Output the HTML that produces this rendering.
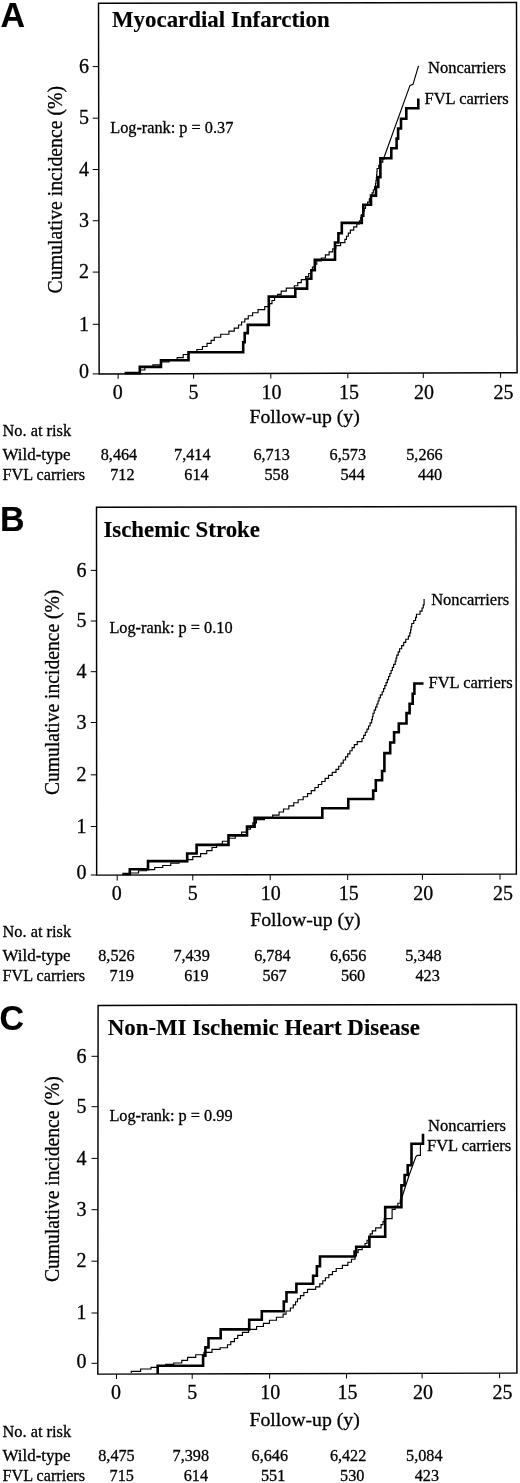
<!DOCTYPE html>
<html><head><meta charset="utf-8"><title>Figure</title><style>
html,body{margin:0;padding:0;background:#fff;}
svg{filter:grayscale(100%);}
body{width:520px;height:1483px;overflow:hidden;}
svg{display:block;}
text{font-family:"Liberation Serif", serif;fill:#000;stroke:#000;stroke-width:0.3px;stroke-linejoin:round;}
.let,.ti{stroke-width:0.15px;}
.let{font-family:"Liberation Sans", sans-serif;font-weight:bold;font-size:34px;}
.box{fill:none;stroke:#000;stroke-width:1.45;}
.tk{stroke:#000;stroke-width:1.0;}
.tl{font-size:20px;}
.yl{font-size:20.3px;}
.ti{font-size:22.9px;font-weight:bold;}
.lr{font-size:16.3px;}
.cl{font-size:16.5px;}
.fu{font-size:19.8px;}
.tb{font-size:16.2px;}
.thk{fill:none;stroke:#000;stroke-width:2.6;stroke-linejoin:miter;stroke-linecap:butt;}
.thn{fill:none;stroke:#000;stroke-width:1.15;stroke-linejoin:miter;}
</style></head>
<body><svg width="520" height="1483" viewBox="0 0 520 1483">
<text transform="translate(0.5 26.8) scale(1 1.045)" class="let">A</text>
<polygon points="98.5,3.3 516.5,2.5 517.1,372.8 99.15,373.9" class="box"/>
<line x1="92.7" x2="99.15" y1="373.9" y2="373.9" class="tk"/>
<text x="89.1" y="378.2" class="tl" text-anchor="end">0</text>
<line x1="92.7" x2="99.06" y1="324.3" y2="324.3" class="tk"/>
<text x="89.1" y="330.5" class="tl" text-anchor="end">1</text>
<line x1="92.7" x2="98.97" y1="272.1" y2="272.1" class="tk"/>
<text x="89.1" y="278.3" class="tl" text-anchor="end">2</text>
<line x1="92.7" x2="98.88" y1="220.75" y2="220.75" class="tk"/>
<text x="89.1" y="226.95" class="tl" text-anchor="end">3</text>
<line x1="92.7" x2="98.79" y1="169.5" y2="169.5" class="tk"/>
<text x="89.1" y="175.7" class="tl" text-anchor="end">4</text>
<line x1="92.7" x2="98.7" y1="118.2" y2="118.2" class="tk"/>
<text x="89.1" y="124.4" class="tl" text-anchor="end">5</text>
<line x1="92.7" x2="98.61" y1="66.6" y2="66.6" class="tk"/>
<text x="89.1" y="72.8" class="tl" text-anchor="end">6</text>
<line x1="118.15" x2="118.15" y1="373.85" y2="378.85" class="tk"/>
<text x="117.65" y="399.2" class="tl" text-anchor="middle">0</text>
<line x1="193.6" x2="193.6" y1="373.65" y2="378.65" class="tk"/>
<text x="193.6" y="399.2" class="tl" text-anchor="middle">5</text>
<line x1="270.8" x2="270.8" y1="373.45" y2="378.45" class="tk"/>
<text x="271.4" y="399.2" class="tl" text-anchor="middle">10</text>
<line x1="347.8" x2="347.8" y1="373.25" y2="378.25" class="tk"/>
<text x="348.9" y="399.2" class="tl" text-anchor="middle">15</text>
<line x1="423.3" x2="423.3" y1="373.05" y2="378.05" class="tk"/>
<text x="424.1" y="399.2" class="tl" text-anchor="middle">20</text>
<line x1="500.6" x2="500.6" y1="372.84" y2="377.84" class="tk"/>
<text x="503.6" y="399.2" class="tl" text-anchor="middle">25</text>
<text transform="translate(61.8 189.7) rotate(-90)" class="yl" text-anchor="middle" textLength="207.4" lengthAdjust="spacingAndGlyphs">Cumulative incidence (%)</text>
<text x="112" y="26.9" class="ti">Myocardial Infarction</text>
<text x="110.2" y="132.9" class="lr">Log-rank: p = 0.37</text>
<path d="M124.6 373.1H139.8V366.9H161V360.3H188.5V352.3H243.2V342.3H244.7V333.1H247.8V324.9H268.8V296.6H295.3V288.6H307.1V278.8H311.3V270.2H314.8V259.8H335V242.5H338.4V233.3H341.8V222.9H361.8V215.7H363.3V204.8H371V195.6H376V186.9H378.3V177.1H380.4V158.3H391.3V148.2H396.6V138.6H398.1V128.5H401V118.7H406.3V108.3H418.3V98.5" class="thk"/>
<path d="M124.6 373.3H132.68V373.13H139.86V370H144.87V366.87H152.88V364.93H160.91V361.86H168.99V359.57H177.13V357.59H183.22V354.48H188.75V351.46H196.9V349.5H202.41V346.48H207.03V343.37H211.09V340.31H214.24V337.26H220.71V334.21H228.9V331.15H234.25V328.1H238.54V324.96H241.55V321.95H244.83V318.82H248.27V315.78H252.59V312.77H258.06V309.65H264.76V306.64H269.57V303.55H271.99V300.5H274.55V297.35H277.57V294.33H281.19V291.17H286.32V288.14H294.35V285.76H297.73V282.66H301.3V279.57H305.55V276.55H308.64V273.46H310.62V270.26H312.38V267.19H314.52V264.07H316.79V261.02H321.38V257.96H325.37V254.83H329.1V251.83H332.74V248.76H335.83V245.67H340.57V242.61H344.89V239.42H346.5V236.2H348.31V233.19H350.37V230.05H353.74V226.92H356.8V223.85H359.47V220.78H360.78V217.56H361.84V214.47H362.97V211.41H364.12V208.35H365.56V205.17H367.66V202.05H369.35V198.93H370.73V195.88H372.09V192.83H373.32V189.77H374.55V186.72H375.54V183.59H375.95V180.55H376.36V177.51H376.65V174.5H376.88V171.5H377.1V168.5H378.79V165.29H380.59V162.19H382.78V159.13H384.1V157.3" class="thn"/>
<path d="M384.1 157.3 L410 85.4 L413 84.3 L418.5 65.8" class="thn"/>
<text x="428" y="72.9" class="cl">Noncarriers</text>
<text x="424.5" y="103.9" class="cl">FVL carriers</text>
<text x="249.4" y="423.2" class="fu">Follow-up (y)</text>
<text x="2.5" y="435.6" class="tb" textLength="68.6" lengthAdjust="spacingAndGlyphs">No. at risk</text>
<text x="2.5" y="460.2" class="tb" textLength="68" lengthAdjust="spacingAndGlyphs">Wild-type</text>
<text x="2.5" y="480.4" class="tb">FVL carriers</text>
<text x="137.2" y="460.2" class="tb" text-anchor="end">8,464</text>
<text x="210.5" y="460.2" class="tb" text-anchor="end">7,414</text>
<text x="289.8" y="460.2" class="tb" text-anchor="end">6,713</text>
<text x="366" y="460.2" class="tb" text-anchor="end">6,573</text>
<text x="442.7" y="460.2" class="tb" text-anchor="end">5,266</text>
<text x="134.5" y="480.4" class="tb" text-anchor="end">712</text>
<text x="208.6" y="480.4" class="tb" text-anchor="end">614</text>
<text x="288.8" y="480.4" class="tb" text-anchor="end">558</text>
<text x="364.8" y="480.4" class="tb" text-anchor="end">544</text>
<text x="442.2" y="480.4" class="tb" text-anchor="end">440</text>
<text transform="translate(0 531.2) scale(1 1.045)" class="let">B</text>
<polygon points="96.5,507.3 516,506.4 516.35,874.1 96.65,875.1" class="box"/>
<line x1="90.8" x2="96.65" y1="875" y2="875" class="tk"/>
<text x="86.5" y="879.3" class="tl" text-anchor="end">0</text>
<line x1="90.8" x2="96.63" y1="826.5" y2="826.5" class="tk"/>
<text x="86.5" y="832.7" class="tl" text-anchor="end">1</text>
<line x1="90.8" x2="96.61" y1="774.85" y2="774.85" class="tk"/>
<text x="86.5" y="781.05" class="tl" text-anchor="end">2</text>
<line x1="90.8" x2="96.59" y1="722.5" y2="722.5" class="tk"/>
<text x="86.5" y="728.7" class="tl" text-anchor="end">3</text>
<line x1="90.8" x2="96.57" y1="671.7" y2="671.7" class="tk"/>
<text x="86.5" y="677.9" class="tl" text-anchor="end">4</text>
<line x1="90.8" x2="96.55" y1="621" y2="621" class="tk"/>
<text x="86.5" y="627.2" class="tl" text-anchor="end">5</text>
<line x1="90.8" x2="96.53" y1="570.4" y2="570.4" class="tk"/>
<text x="86.5" y="576.6" class="tl" text-anchor="end">6</text>
<line x1="117.2" x2="117.2" y1="875.05" y2="880.55" class="tk"/>
<text x="116.7" y="899.6" class="tl" text-anchor="middle">0</text>
<line x1="192.8" x2="192.8" y1="874.87" y2="880.37" class="tk"/>
<text x="192.8" y="899.6" class="tl" text-anchor="middle">5</text>
<line x1="270.2" x2="270.2" y1="874.69" y2="880.19" class="tk"/>
<text x="270.8" y="899.6" class="tl" text-anchor="middle">10</text>
<line x1="347.7" x2="347.7" y1="874.5" y2="880" class="tk"/>
<text x="348.8" y="899.6" class="tl" text-anchor="middle">15</text>
<line x1="422.4" x2="422.4" y1="874.32" y2="879.82" class="tk"/>
<text x="423.2" y="899.6" class="tl" text-anchor="middle">20</text>
<line x1="500" x2="500" y1="874.14" y2="879.64" class="tk"/>
<text x="503" y="899.6" class="tl" text-anchor="middle">25</text>
<text transform="translate(58.5 692.4) rotate(-90)" class="yl" text-anchor="middle" textLength="205.4" lengthAdjust="spacingAndGlyphs">Cumulative incidence (%)</text>
<text x="103.4" y="536.6" class="ti">Ischemic Stroke</text>
<text x="109.4" y="633.3" class="lr">Log-rank: p = 0.10</text>
<path d="M122.4 874H129.8V869.3H148V861.1H187.2V853.5H196.6V844.9H228.5V835.4H247V826.6H254.6V817.7H322.3V808.3H348.3V799H373.2V790.6H375.8V780.2H382.1V771H384.4V753.1H390.2V742.5H394.1V732.3H398.8V723.5H406.5V713.1H409.6V703.8H412.7V693.8H414.4V683.5H423.5" class="thk"/>
<path d="M122.4 874.3H130.48V872.95H138.5V870.75H146.5V869.55H154.72V867.47H162.75V865.48H170.78V863.18H179V861.64H187.13V859.68H192.81V856.65H200.62V853.56H206.72V850.56H211.99V847.49H216.66V844.37H222.39V841.29H228.31V838.24H235.28V835.24H241.65V832.18H246.58V829.07H250.53V825.99H252.84V822.81H256.4V819.67H264.48V818.03H272.63V815.06H279.08V811.96H283.51V808.95H288.81V805.9H293.75V802.77H298.14V799.74H303.2V796.71H307.54V793.65H311.25V790.63H314.9V787.52H318.33V784.49H321.74V781.46H325.12V778.43H328.5V775.4H332.25V772.38H336V769.36H338.68V766.2H341.04V763.15H343.27V760.03H345.5V756.92H347.7V753.83H349.89V750.76H352.09V747.67H354.32V744.58H357.28V741.58H362.01V738.46H363.66V735.35H365.32V732.23H366.95V729.1H368.52V725.95H370.1V722.8H371.67V719.65H372.41V716.49H373.01V713.29H374.21V710.16H375.6V707.09H376.9V704.04H378.01V700.96H379.04V697.87H380.38V694.85H382.18V691.7H383.57V688.69H384.82V685.65H386.07V682.61H387.33V679.57H388.58V676.53H389.84V673.49H391.09V670.45H392.34V667.41H393.62V664.37H395.23V661.15H396.05V658.15H396.8V655.15H398.2V651.92H399.6V648.7H401.67V645.56H403.72V642.39H405.76V639.21H408.38V636.15H409.79V632.93H410.57V629.9H411.13V626.67H411.74V623.49H413.77V620.48H415.58V617.38H416.47V614.27H420.02V611.19H422.06V608.01H423.24V604.91H424.1V601.72H424.1V599.1" class="thn"/>
<text x="431.2" y="604.8" class="cl">Noncarriers</text>
<text x="428.5" y="687.7" class="cl">FVL carriers</text>
<text x="250.2" y="925.6" class="fu">Follow-up (y)</text>
<text x="2.5" y="937.1" class="tb" textLength="68.6" lengthAdjust="spacingAndGlyphs">No. at risk</text>
<text x="2.5" y="960.5" class="tb" textLength="68" lengthAdjust="spacingAndGlyphs">Wild-type</text>
<text x="2.5" y="981" class="tb">FVL carriers</text>
<text x="134.7" y="960.5" class="tb" text-anchor="end">8,526</text>
<text x="209.8" y="960.5" class="tb" text-anchor="end">7,439</text>
<text x="290.6" y="960.5" class="tb" text-anchor="end">6,784</text>
<text x="366.3" y="960.5" class="tb" text-anchor="end">6,656</text>
<text x="441.7" y="960.5" class="tb" text-anchor="end">5,348</text>
<text x="133.9" y="981" class="tb" text-anchor="end">719</text>
<text x="208.5" y="981" class="tb" text-anchor="end">619</text>
<text x="286.7" y="981" class="tb" text-anchor="end">567</text>
<text x="365.2" y="981" class="tb" text-anchor="end">560</text>
<text x="439.8" y="981" class="tb" text-anchor="end">423</text>
<text transform="translate(-0.4 1029.6) scale(1 1.045)" class="let">C</text>
<polygon points="98.1,1005.4 516.5,1004.5 516.9,1373.1 97.8,1374.1" class="box"/>
<line x1="91.5" x2="97.81" y1="1363.3" y2="1363.3" class="tk"/>
<text x="86.4" y="1367.6" class="tl" text-anchor="end">0</text>
<line x1="91.5" x2="97.85" y1="1313" y2="1313" class="tk"/>
<text x="86.4" y="1319.2" class="tl" text-anchor="end">1</text>
<line x1="91.5" x2="97.89" y1="1261.2" y2="1261.2" class="tk"/>
<text x="86.4" y="1267.4" class="tl" text-anchor="end">2</text>
<line x1="91.5" x2="97.93" y1="1209.7" y2="1209.7" class="tk"/>
<text x="86.4" y="1215.9" class="tl" text-anchor="end">3</text>
<line x1="91.5" x2="97.98" y1="1158.4" y2="1158.4" class="tk"/>
<text x="86.4" y="1164.6" class="tl" text-anchor="end">4</text>
<line x1="91.5" x2="98.02" y1="1106.7" y2="1106.7" class="tk"/>
<text x="86.4" y="1112.9" class="tl" text-anchor="end">5</text>
<line x1="91.5" x2="98.06" y1="1056.3" y2="1056.3" class="tk"/>
<text x="86.4" y="1062.5" class="tl" text-anchor="end">6</text>
<line x1="116.5" x2="116.5" y1="1374.06" y2="1379.06" class="tk"/>
<text x="116" y="1399.2" class="tl" text-anchor="middle">0</text>
<line x1="192.2" x2="192.2" y1="1373.87" y2="1378.87" class="tk"/>
<text x="192.2" y="1399.2" class="tl" text-anchor="middle">5</text>
<line x1="269.6" x2="269.6" y1="1373.69" y2="1378.69" class="tk"/>
<text x="270.2" y="1399.2" class="tl" text-anchor="middle">10</text>
<line x1="346.5" x2="346.5" y1="1373.51" y2="1378.51" class="tk"/>
<text x="347.6" y="1399.2" class="tl" text-anchor="middle">15</text>
<line x1="422.1" x2="422.1" y1="1373.33" y2="1378.33" class="tk"/>
<text x="422.9" y="1399.2" class="tl" text-anchor="middle">20</text>
<line x1="499.6" x2="499.6" y1="1373.14" y2="1378.14" class="tk"/>
<text x="502.6" y="1399.2" class="tl" text-anchor="middle">25</text>
<text transform="translate(58.5 1179.2) rotate(-90)" class="yl" text-anchor="middle" textLength="205.7" lengthAdjust="spacingAndGlyphs">Cumulative incidence (%)</text>
<text x="107.7" y="1034.6" class="ti">Non-MI Ischemic Heart Disease</text>
<text x="109.4" y="1120.6" class="lr">Log-rank: p = 0.99</text>
<path d="M157.7 1374V1365.8H203.1V1355.7H205.4V1347.4H208.5V1338.2H220.7V1329.4H249.2V1319.7H261.8V1311.2H283.8V1301.5H286.5V1292.3H296.4V1283.8H313.1V1275.8H316.9V1266.2H320V1256.5H354.6V1251.5H356.2V1246.8H369.4V1236.7H385.2V1207.1H401.4V1185.4H404.6V1175H407.7V1165.2H411.5V1143.8H423V1133.8" class="thk"/>
<path d="M131.3 1373V1371.3H140.6V1369H151V1367.3H157.7" class="thn"/>
<path d="M157.7 1365.8H165.7V1364.41H173.72V1362.96H181.74V1360.34H187.56V1357.3H195.72V1354.74H203.91V1352.3H211.98V1349.43H220.11V1347.78H227.49V1344.75H230.77V1341.64H234.44V1338.52H237.7V1335.4H242.45V1332.37H248.57V1329.33H256.57V1326.46H263.42V1323.33H269.48V1320.26H276.43V1317.2H283.11V1314.11H286.04V1311H290.38V1307.98H293.26V1304.81H295.58V1301.79H297.46V1298.72H300.51V1295.62H303.85V1292.47H307.53V1289.33H315.63V1286.93H319.77V1283.87H322.77V1280.79H325.4V1277.7H328.83V1274.66H332.48V1271.51H336.2V1268.5H342.38V1265.4H347.86V1262.29H351.5V1259.2H355.01V1255.98H356.46V1252.76H358.11V1249.69H362.17V1246.63H365.01V1243.48H367.01V1240.27H368.6V1237.09H370.19V1233.92H372.35V1230.85H375.68V1227.82H381.02V1224.62H382.99V1221.61H384.24V1218.61H392.1V1215.54H392.1V1212.48H392.1V1209.42H395.14V1206.31H397.87V1203.23H400.26V1200.19H401.7V1198" class="thn"/>
<path d="M401.7 1198 L409.2 1175 L415.8 1156.9 L417.3 1155.4 L420.4 1155.4 L420.4 1144.2" class="thn"/>
<text x="428" y="1130.5" class="cl">Noncarriers</text>
<text x="427" y="1150.8" class="cl">FVL carriers</text>
<text x="249.4" y="1425.6" class="fu">Follow-up (y)</text>
<text x="2.5" y="1436.5" class="tb" textLength="68.6" lengthAdjust="spacingAndGlyphs">No. at risk</text>
<text x="2.5" y="1461" class="tb" textLength="68" lengthAdjust="spacingAndGlyphs">Wild-type</text>
<text x="2.5" y="1481" class="tb">FVL carriers</text>
<text x="134.7" y="1461" class="tb" text-anchor="end">8,475</text>
<text x="209" y="1461" class="tb" text-anchor="end">7,398</text>
<text x="288" y="1461" class="tb" text-anchor="end">6,646</text>
<text x="366.3" y="1461" class="tb" text-anchor="end">6,422</text>
<text x="442.5" y="1461" class="tb" text-anchor="end">5,084</text>
<text x="133.9" y="1481" class="tb" text-anchor="end">715</text>
<text x="208" y="1481" class="tb" text-anchor="end">614</text>
<text x="285.3" y="1481" class="tb" text-anchor="end">551</text>
<text x="364.4" y="1481" class="tb" text-anchor="end">530</text>
<text x="439" y="1481" class="tb" text-anchor="end">423</text>
</svg></body></html>
